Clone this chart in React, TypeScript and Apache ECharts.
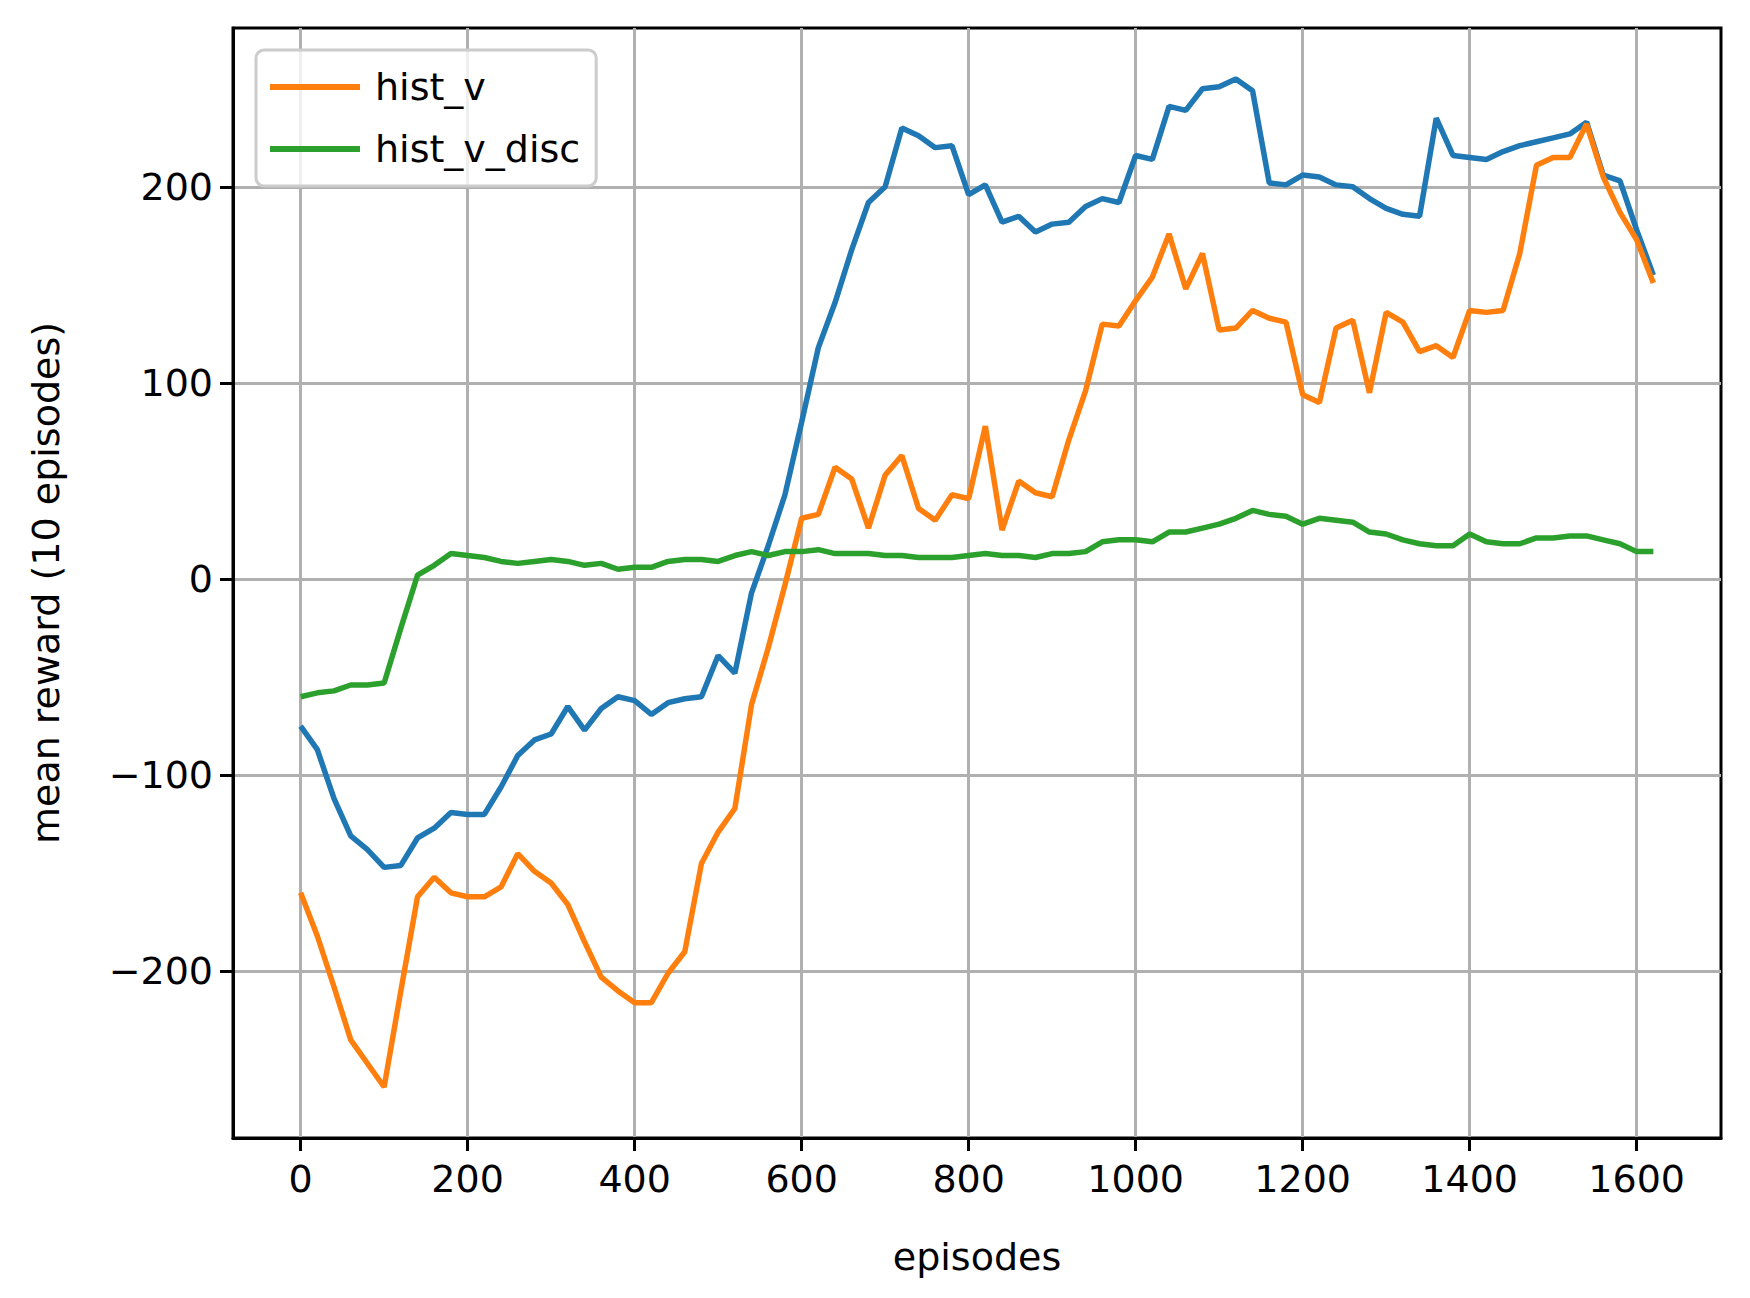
import { useEffect, useRef } from 'react'
import * as echarts from 'echarts'

const episodes = Array.from({ length: 82 }, (_, i) => i * 20)

const blue = [-75, -87, -112, -131, -138, -147, -146, -132, -127, -119, -120, -120, -106, -90, -82, -79, -65, -77, -66, -60, -62, -69, -63, -61, -60, -39, -48, -7, 17, 43, 80, 118, 141, 168, 192, 200, 230, 226, 220, 221, 196, 201, 182, 185, 177, 181, 182, 190, 194, 192, 216, 214, 241, 239, 250, 251, 255, 249, 202, 201, 206, 205, 201, 200, 194, 189, 186, 185, 235, 216, 215, 214, 218, 221, 223, 225, 227, 233, 206, 203, 178, 155]

const histV = [-160, -182, -208, -235, -247, -259, -210, -162, -152, -160, -162, -162, -157, -140, -149, -155, -166, -185, -203, -210, -216, -216, -201, -190, -145, -129, -117, -64, -35, -3, 31, 33, 57, 51, 26, 53, 63, 36, 30, 43, 41, 78, 25, 50, 44, 42, 71, 96, 130, 129, 142, 154, 176, 148, 166, 127, 128, 137, 133, 131, 94, 90, 128, 132, 95, 136, 131, 116, 119, 113, 137, 136, 137, 166, 211, 215, 215, 232, 205, 187, 173, 151]

const histVDisc = [-60, -58, -57, -54, -54, -53, -25, 2, 7, 13, 12, 11, 9, 8, 9, 10, 9, 7, 8, 5, 6, 6, 9, 10, 10, 9, 12, 14, 12, 14, 14, 15, 13, 13, 13, 12, 12, 11, 11, 11, 12, 13, 12, 12, 11, 13, 13, 14, 19, 20, 20, 19, 24, 24, 26, 28, 31, 35, 33, 32, 28, 31, 30, 29, 24, 23, 20, 18, 17, 17, 23, 19, 18, 18, 21, 21, 22, 22, 20, 18, 14, 14]

const xTicks = [0, 200, 400, 600, 800, 1000, 1200, 1400, 1600]
const yTicks = [-200, -100, 0, 100, 200]

const font = 'DejaVu Sans'
const fmt = (v: number) => String(v).replace('-', '\u2212')

export default function App() {
  const ref = useRef<HTMLDivElement>(null)

  useEffect(() => {
    document.body.style.margin = '0'
    if (!ref.current) return
    const chart = echarts.init(ref.current, undefined, { renderer: 'svg' })
    const pts = (ys: number[]) => episodes.map((x, i) => [x, ys[i]])
    const axisCommon = {
      axisLine: { show: true, onZero: false, lineStyle: { color: '#000', width: 3 } },
      axisTick: { show: true, length: 13, lineStyle: { color: '#000', width: 3 } },
      splitLine: { show: true, lineStyle: { color: '#b0b0b0', width: 3 } },
      nameTextStyle: { fontFamily: font, fontSize: 38, color: '#000' },
    }
    chart.setOption({
      animation: false,
      backgroundColor: '#fff',
      textStyle: { fontFamily: font },
      grid: { left: 233, right: 29, top: 28, bottom: 160, show: true, borderColor: '#000', borderWidth: 3 },
      legend: {
        data: ['hist_v', 'hist_v_disc'],
        orient: 'vertical',
        left: 256,
        top: 50,
        icon: 'rect',
        itemWidth: 90,
        itemHeight: 6,
        itemGap: 24,
        padding: [18, 16, 18, 14],
        borderColor: '#cccccc',
        borderWidth: 3,
        borderRadius: 8,
        backgroundColor: 'rgba(255,255,255,0.8)',
        textStyle: { fontFamily: font, fontSize: 38, color: '#000', padding: [0, 0, 0, 10] },
      },
      xAxis: {
        type: 'value',
        min: -81,
        max: 1701,
        name: 'episodes',
        nameLocation: 'middle',
        nameGap: 100,
        ...axisCommon,
        axisTick: { ...axisCommon.axisTick, customValues: xTicks },
        axisLabel: { customValues: xTicks, fontFamily: font, fontSize: 38, color: '#000', margin: 22, formatter: fmt },
      },
      yAxis: {
        type: 'value',
        min: -285,
        max: 281,
        name: 'mean reward (10 episodes)',
        nameLocation: 'middle',
        nameGap: 168,
        ...axisCommon,
        axisTick: { ...axisCommon.axisTick, customValues: yTicks },
        axisLabel: { customValues: yTicks, fontFamily: font, fontSize: 38, color: '#000', margin: 20, formatter: fmt },
      },
      series: [
        { name: '', type: 'line', data: pts(blue), showSymbol: false, lineStyle: { color: '#1f77b4', width: 5.5 }, itemStyle: { color: '#1f77b4' } },
        { name: 'hist_v', type: 'line', data: pts(histV), showSymbol: false, lineStyle: { color: '#ff7f0e', width: 5.5 }, itemStyle: { color: '#ff7f0e' } },
        { name: 'hist_v_disc', type: 'line', data: pts(histVDisc), showSymbol: false, lineStyle: { color: '#2ca02c', width: 5.5 }, itemStyle: { color: '#2ca02c' } },
      ],
    })
    return () => chart.dispose()
  }, [])

  return <div ref={ref} style={{ width: 1750, height: 1298 }} />
}
